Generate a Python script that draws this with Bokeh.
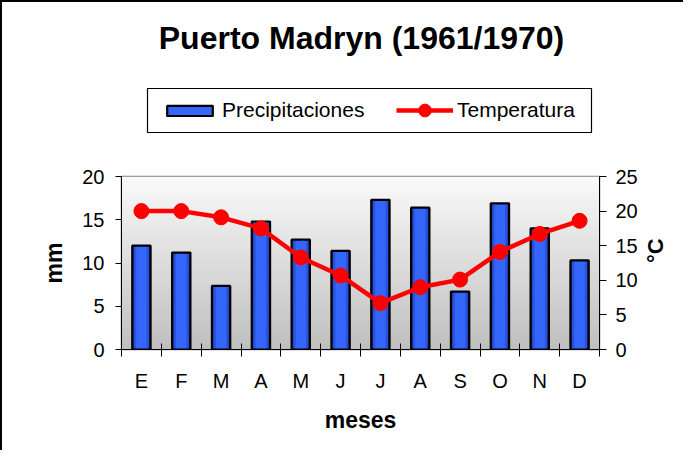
import math
import numpy as np
from bokeh.plotting import figure
from bokeh.layouts import column
from bokeh.models import Range1d, LinearAxis, FixedTicker, Legend, LegendItem, Label, BoxAnnotation
from bokeh.embed import file_html
from bokeh.resources import INLINE

# ---- data ----
meses = ["E", "F", "M", "A", "M", "J", "J", "A", "S", "O", "N", "D"]
precipitaciones = [12.0, 11.2, 7.35, 14.8, 12.7, 11.4, 17.3, 16.4, 6.7, 16.9, 14.0, 10.3]
temperatura = [20.0, 20.0, 19.1, 17.5, 13.3, 10.7, 6.7, 9.0, 10.1, 14.1, 16.7, 18.6]
mm_ticks = [0, 5, 10, 15, 20]
c_ticks = [0, 5, 10, 15, 20, 25]
titulo = "Puerto Madryn (1961/1970)"

FONT = "Liberation Sans"
W = 681
HEAD_H = 150
BL, BR = 119, 84
FRAME_W = W - BL - BR
x = list(range(len(meses)))
NAN = float("nan")

BAR_STYLES = [(0.46, "#16308f"), (0.38, "#2a52e0"), (0.26, "#3566fb")]
RED = "#ff0000"

# ---------------- header (title + legend) ----------------
hdr = figure(width=W, height=HEAD_H, output_backend="svg", toolbar_location=None, title=None,
             x_range=Range1d(0, FRAME_W), y_range=Range1d(0, HEAD_H),
             x_axis_location=None, y_axis_location=None,
             min_border_left=BL, min_border_right=BR, min_border_top=0, min_border_bottom=0)
hdr.outline_line_color = None
hdr.xgrid.visible = False
hdr.ygrid.visible = False
hdr.background_fill_color = "white"
hdr.border_fill_color = "white"

hdr.add_layout(Label(x=240, y=HEAD_H - 35, text=titulo, text_align="center",
                     text_baseline="alphabetic", text_font=FONT, text_font_style="bold",
                     text_font_size="32px", text_color="black"))

# legend frame
hdr.add_layout(BoxAnnotation(left=26, right=470, bottom=20, top=64, fill_alpha=0,
                             line_color="black", line_width=1.2, line_alpha=1))

lb_fill = hdr.vbar(x=[NAN], top=[NAN], width=0.4, fill_color="#3566fb", line_color=None)
lb_line = hdr.vbar(x=[NAN], top=[NAN], width=0.4, fill_color=None, line_color="black", line_width=2.2)
lt_line = hdr.line(x=[NAN], y=[NAN], line_color=RED, line_width=4.5)
lt_dot = hdr.scatter(x=[NAN], y=[NAN], marker="circle", size=14, fill_color=RED, line_color=RED)


def style_legend(lg, gw, gh):
    lg.border_line_color = None
    lg.background_fill_alpha = 0
    lg.label_text_font = FONT
    lg.label_text_font_size = "21px"
    lg.label_text_color = "black"
    lg.label_height = 20
    lg.glyph_width = gw
    lg.glyph_height = gh
    lg.label_standoff = 4
    lg.padding = 0
    lg.margin = 0


leg1 = Legend(items=[LegendItem(label="Precipitaciones", renderers=[lb_fill, lb_line])],
              location=(40, 30), orientation="horizontal")
style_legend(leg1, 57, 13)
hdr.add_layout(leg1, "center")

leg2 = Legend(items=[LegendItem(label="Temperatura", renderers=[lt_line, lt_dot])],
              location=(275, 26), orientation="horizontal")
style_legend(leg2, 57, 32)
hdr.add_layout(leg2, "center")

# ---------------- main chart ----------------
p = figure(width=W, height=448 - HEAD_H, output_backend="svg", toolbar_location=None, title=None,
           x_range=Range1d(-0.5, len(meses) - 0.5), y_range=Range1d(mm_ticks[0], mm_ticks[-1]),
           min_border_left=BL, min_border_right=BR, min_border_top=24, min_border_bottom=101)
p.extra_y_ranges = {"temp": Range1d(c_ticks[0], c_ticks[-1])}

p.background_fill_color = "white"
p.border_fill_color = "white"
p.outline_line_color = "#808080"
p.outline_line_width = 1.5
p.xgrid.visible = False
p.ygrid.visible = False

# gradient background of the plot area
n = 64
g = np.linspace(0xC0, 0xFA, n).astype(np.uint32)
img = np.empty((n, 1), dtype=np.uint32)
img[:, 0] = (0xFF << 24) | (g << 16) | (g << 8) | g
p.image_rgba(image=[img], x=-0.5, y=mm_ticks[0], dw=len(meses), dh=mm_ticks[-1] - mm_ticks[0])

# bars with simulated gradient
for w, c in BAR_STYLES:
    p.vbar(x=x, top=precipitaciones, width=w, bottom=0, fill_color=c, line_color=None)
p.vbar(x=x, top=precipitaciones, width=BAR_STYLES[0][0], bottom=0, fill_color=None,
       line_color="black", line_width=2.2)

# temperature line
p.line(x=x, y=temperatura, y_range_name="temp", line_color=RED, line_width=4.5)
p.scatter(x=x, y=temperatura, y_range_name="temp", marker="circle", size=15,
          fill_color=RED, line_color=RED)

# axes
xa = p.xaxis[0]
xa.ticker = FixedTicker(ticks=x, minor_ticks=[i - 0.5 for i in range(len(meses) + 1)])
xa.major_label_overrides = {i: m for i, m in enumerate(meses)}
xa.major_tick_in = 0
xa.major_tick_out = 0
xa.minor_tick_in = 6
xa.minor_tick_out = 7
xa.minor_tick_line_color = "black"
xa.axis_line_color = "black"
xa.major_label_text_font = FONT
xa.major_label_text_font_size = "20px"
xa.major_label_text_color = "black"
xa.major_label_standoff = 13
xa.axis_label = "meses"
xa.axis_label_text_font = FONT
xa.axis_label_text_font_style = "bold"
xa.axis_label_text_font_size = "23px"
xa.axis_label_text_color = "black"
xa.axis_label_standoff = 12

ya = p.yaxis[0]
ya.ticker = FixedTicker(ticks=mm_ticks, minor_ticks=[])
ya.major_tick_in = 0
ya.major_tick_out = 6
ya.axis_line_color = "black"
ya.major_tick_line_color = "black"
ya.major_label_text_font = FONT
ya.major_label_text_font_size = "20px"
ya.major_label_text_color = "black"
ya.major_label_standoff = 11
ya.axis_label = "mm"
ya.axis_label_text_font = FONT
ya.axis_label_text_font_style = "bold"
ya.axis_label_text_font_size = "23px"
ya.axis_label_text_color = "black"
ya.axis_label_standoff = 12

ra = LinearAxis(y_range_name="temp", ticker=FixedTicker(ticks=c_ticks, minor_ticks=[]))
ra.major_tick_in = 0
ra.major_tick_out = 7
ra.axis_line_color = "black"
ra.major_label_text_font = FONT
ra.major_label_text_font_size = "20px"
ra.major_label_text_color = "black"
ra.major_label_standoff = 9
p.add_layout(ra, "right")

# unit label of the right axis, reading bottom to top
mid = (c_ticks[0] + c_ticks[-1]) / 2
ua = LinearAxis(y_range_name="temp", ticker=FixedTicker(ticks=[mid], minor_ticks=[]))
ua.major_label_overrides = {mid: "°C"}
ua.major_label_orientation = math.pi / 2
ua.axis_line_color = None
ua.major_tick_line_color = None
ua.major_tick_in = 0
ua.major_tick_out = 0
ua.major_label_text_font = FONT
ua.major_label_text_font_style = "bold"
ua.major_label_text_font_size = "22px"
ua.major_label_text_color = "black"
ua.major_label_standoff = 15
p.add_layout(ua, "right")

page = column(hdr, p, spacing=0,
              styles={"border-left": "2px solid black", "border-top": "2px solid black"})

open("out.html", "w").write(file_html(page, INLINE))
